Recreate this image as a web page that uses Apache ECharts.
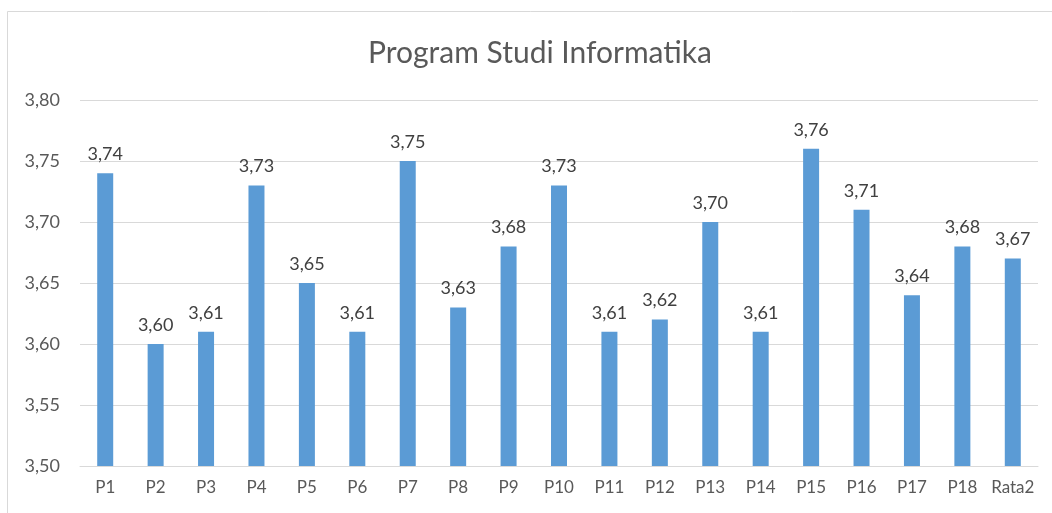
<!DOCTYPE html>
<html>
<head>
<meta charset="utf-8">
<style>
  html, body { margin: 0; padding: 0; background: #fff; }
  #chart { width: 1052px; height: 513px; }
</style>
<script src="https://cdn.jsdelivr.net/npm/echarts@6/dist/echarts.min.js"></script>
</head>
<body>
<div id="chart"></div>
<script>
// Data.
const categories = ['P1', 'P2', 'P3', 'P4', 'P5', 'P6', 'P7', 'P8', 'P9', 'P10',
  'P11', 'P12', 'P13', 'P14', 'P15', 'P16', 'P17', 'P18', 'Rata2'];
const values = [3.74, 3.60, 3.61, 3.73, 3.65, 3.61, 3.75, 3.63, 3.68, 3.73,
  3.61, 3.62, 3.70, 3.61, 3.76, 3.71, 3.64, 3.68, 3.67];
const yMin = 3.50;
const yMax = 3.80;
const yStep = 0.05;

const font = 'Lato, "Open Sans", sans-serif';
const comma = (v) => v.toFixed(2).replace('.', ',');

const chart = echarts.init(document.getElementById('chart'), null, { renderer: 'canvas' });
chart.setOption({
  animation: false,
  backgroundColor: '#fff',
  title: {
    text: 'Program Studi Informatika',
    left: 535,
    textAlign: 'center',
    top: 33,
    textStyle: { fontFamily: font, fontSize: 30, fontWeight: 'normal', color: '#595959' }
  },
  graphic: [{
    type: 'rect',
    shape: { x: 7.5, y: 11.5, width: 1100, height: 600 },
    style: { fill: 'none', stroke: '#d9d9d9', lineWidth: 1 },
    silent: true
  }],
  grid: { left: 80, right: 14, top: 100, bottom: 47, containLabel: false },
  xAxis: {
    type: 'category',
    data: categories,
    axisTick: { show: false },
    axisLine: { lineStyle: { color: '#d9d9d9', width: 1 } },
    axisLabel: { interval: 0, fontFamily: font, fontSize: 17, color: '#595959', margin: 13 }
  },
  yAxis: {
    type: 'value',
    min: yMin,
    max: yMax,
    interval: yStep,
    axisLine: { show: false },
    axisTick: { show: false },
    splitLine: { lineStyle: { color: '#d9d9d9', width: 1 } },
    axisLabel: { fontFamily: font, fontSize: 18, color: '#595959', margin: 20, formatter: comma }
  },
  series: [{
    type: 'bar',
    data: values,
    barWidth: 16,
    itemStyle: { color: '#5b9bd5' },
    label: {
      show: true,
      position: 'top',
      distance: 10,
      fontFamily: font,
      fontSize: 18,
      color: '#404040',
      formatter: (p) => comma(p.value)
    }
  }]
});
</script>
</body>
</html>
